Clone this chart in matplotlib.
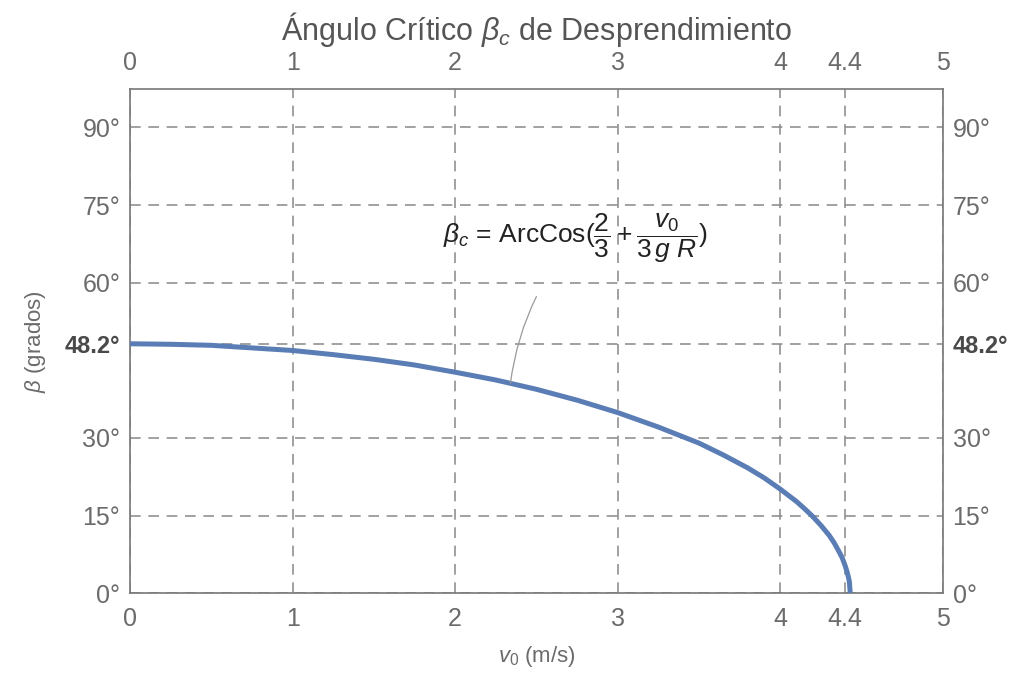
import matplotlib
matplotlib.use('Agg')
import matplotlib.pyplot as plt

# valores
v0 = [0.0, 0.25, 0.5, 0.75, 1.0, 1.25, 1.5, 1.75, 2.0, 2.25, 2.5, 2.75, 3.0, 3.25,
      3.5, 3.65, 3.8, 3.9, 4.0, 4.1, 4.15, 4.2, 4.25, 4.3, 4.33, 4.36, 4.38, 4.4,
      4.41, 4.42, 4.425, 4.43]
beta = [48.2, 48.1, 47.9, 47.4, 46.9, 46.1, 45.2, 44.1, 42.7, 41.2, 39.4, 37.3, 34.9, 32.1,
        29.0, 26.7, 24.2, 22.3, 20.1, 17.7, 16.3, 14.8, 13.1, 11.2, 9.8, 8.1, 6.9, 5.2,
        4.2, 3.0, 2.2, 0.0]
xticks = [0, 1, 2, 3, 4, 4.4, 5]
xticklabels = ['0', '1', '2', '3', '4', '4.4', '5']
yticks = [0, 15, 30, 48.2, 60, 75, 90]
yticklabels = ['0°', '15°', '30°', '48.2°', '60°', '75°', '90°']

plt.rcParams['mathtext.fontset'] = 'custom'
plt.rcParams['mathtext.rm'] = 'Liberation Sans'
plt.rcParams['mathtext.it'] = 'Liberation Sans:italic'
plt.rcParams['font.family'] = ['Liberation Sans', 'DejaVu Sans']

gray = '#6b6b6b'
fig = plt.figure(figsize=(10.16, 6.81), dpi=100)
ax = fig.add_axes([0.128, 0.129, 0.800, 0.740])

ax.plot(v0, beta, color='#5b7db5', lw=3.6, solid_capstyle='butt', zorder=3)
ax.set_xlim(0, 5)
ax.set_ylim(0, 97.4)

ax.set_xticks(xticks)
ax.set_xticklabels(xticklabels, fontsize=18, color=gray)
ax.set_yticks(yticks)
ax.set_yticklabels(yticklabels, fontsize=18, color=gray)
ax.tick_params(length=0, top=True, labeltop=True, right=True, labelright=True)
ax.tick_params(axis='x', pad=10)
ax.tick_params(axis='y', pad=7)
for lab in ax.get_yticklabels():
    if lab.get_text() == '48.2°':
        lab.set_fontweight('bold')
        lab.set_color('#4a4a4a')
        lab.set_fontsize(17)

ax.grid(True, color='#888888', lw=1.1, linestyle=(0, (7, 5)))
ax.set_axisbelow(True)
for s in ax.spines.values():
    s.set_color('#777777')
    s.set_linewidth(1.2)

ax.set_xlabel(r'$v_0$ (m/s)', fontsize=16, color=gray, labelpad=9)
ax.set_ylabel(r'$\beta$ (grados)', fontsize=16, color=gray, labelpad=12)
ax.set_title(r'Ángulo Crítico $\beta_c$ de Desprendimiento',
             fontsize=22, color='#555555', pad=8)

ax.annotate(r'$\beta_c$ = ArcCos$(\dfrac{2}{3}+\dfrac{v_0}{3\,g\ R})$',
            xy=(2.34, 40.6), xytext=(2.74, 68.6), fontsize=19, color='#222222',
            ha='center', va='center',
            arrowprops=dict(arrowstyle='-', color='#999999', lw=0.9,
                            connectionstyle='arc3,rad=0.15', shrinkA=24, shrinkB=0))

fig.savefig('out.png', dpi=100)
